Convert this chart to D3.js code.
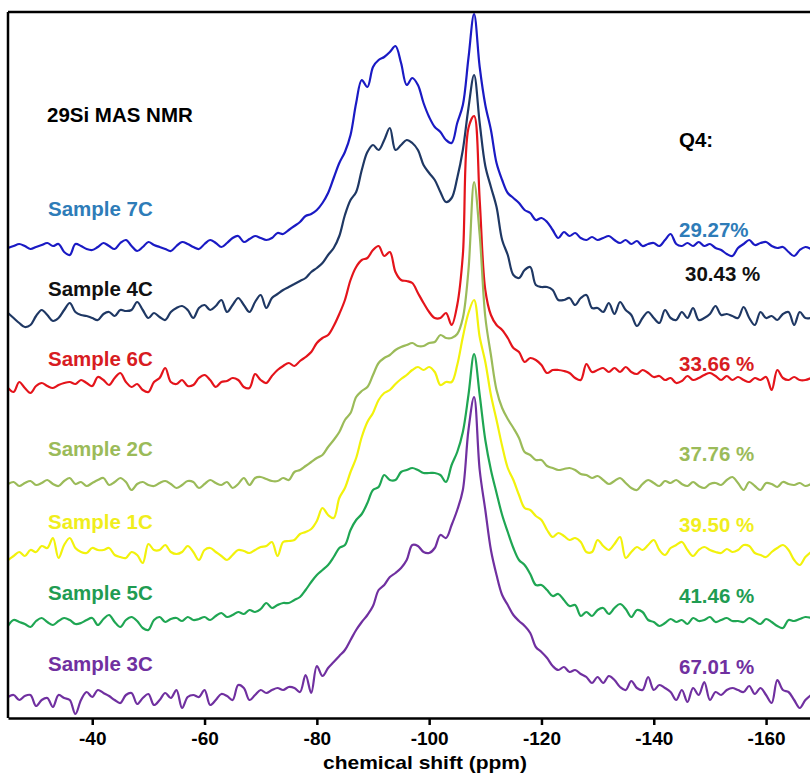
<!DOCTYPE html>
<html>
<head>
<meta charset="utf-8">
<script src="https://cdn.jsdelivr.net/npm/d3@7"></script>
<style>
  body { margin: 0; background: #fff; }
  svg { display: block; }
  text { font-family: Arial, "Liberation Sans", sans-serif; font-weight: bold; }
</style>
</head>
<body>
<svg id="chart" width="810" height="774"></svg>
<script>
// 29Si MAS NMR spectra, stacked; intensities in arbitrary units above each trace's own baseline
const shifts = d3.range(-25, -169, -1); // chemical shift of each sample point (ppm)

const samples = ["Sample 7C", "Sample 4C", "Sample 6C", "Sample 2C", "Sample 1C", "Sample 5C", "Sample 3C"];
const q4Labels = ["29.27%", "30.43 %", "33.66 %", "37.76 %", "39.50 %", "41.46 %", "67.01 %"];
const stackOffsets = [470, 405, 333, 233, 166, 96, 18];

const tickValues = [-40, -60, -80, -100, -120, -140, -160];
const tickLabels = ["-40", "-60", "-80", "-100", "-120", "-140", "-160"];

const spec7C = [
  0, 2, 4, 2, -1, 1, 3, 5, 2, 4,
  -4, -7, 4, 2, -1, -2, 1, 5, 2, -1,
  5, 8, 2, -3, 1, 6, 3, 1, -1, -3,
  2, 6, 4, 1, -1, 4, 8, 5, 1, 5,
  10, 12, 6, 9, 12, 10, 8, 10, 15, 14,
  18, 22, 26, 32, 34, 38, 45, 55, 70, 85,
  96, 113, 145, 168, 161, 181, 188, 191, 196, 202,
  185, 163, 170, 163, 145, 131, 121, 116, 108, 105,
  125, 143, 190, 234, 181, 143, 118, 85, 68, 55,
  50, 45, 38, 35, 28, 30, 26, 18, 10, 16,
  12, 15, 10, 8, 11, 8, 10, 12, 8, 5,
  8, 4, 7, 2, 4, 5, 2, 8, 14, 4,
  2, 5, 2, 6, 2, 4, 0, -2, -6, -8,
  0, 4, 8, 3, 5, 6, 2, 0, 1, -4,
  -8, -2, 1, -1
];
const spec4C = [
  0, -5, -10, -14, -12, -3, 3, -2, -8, -5,
  3, 10, 1, -2, -3, -5, -7, -1, 1, -3,
  3, 2, 3, 11, 3, -5, 0, -4, -7, 1,
  5, 7, 3, -5, 5, 8, 3, 7, 13, 1,
  8, 15, 8, 1, 11, 18, 5, 15, 19, 23,
  26, 29, 32, 35, 41, 45, 50, 58, 65, 77,
  98, 113, 121, 143, 161, 168, 163, 173, 185, 163,
  168, 173, 170, 163, 148, 140, 133, 121, 111, 115,
  135, 163, 205, 238, 190, 147, 126, 106, 73, 58,
  38, 35, 43, 46, 28, 26, 26, 23, 13, 13,
  15, 8, 15, 18, 5, 5, 1, 10, -1, 11,
  3, -2, -13, -5, 1, -5, -10, 3, -5, -7,
  1, -5, 5, -7, -5, -1, 7, -2, -1, -3,
  -5, 6, -5, -12, 1, -5, -3, -7, -1, 1,
  -12, 1, -5, -5
];
const spec6C = [
  -3, -7, 3, -3, -8, -1, 2, -1, -3, 0,
  2, 3, 1, 5, 2, -1, 8, 5, 0, 7,
  12, 3, -2, 1, -5, -7, 3, 7, 17, 3,
  1, 5, -1, 0, 7, 10, 5, -2, 3, 4,
  7, 5, -2, -3, 11, 5, 2, 9, 15, 19,
  22, 19, 24, 28, 33, 42, 47, 50, 59, 71,
  85, 105, 118, 125, 127, 135, 139, 129, 133, 113,
  105, 104, 102, 92, 82, 73, 67, 67, 72, 60,
  80, 130, 257, 269, 185, 95, 70, 60, 55, 47,
  37, 33, 23, 27, 25, 20, 12, 15, 15, 14,
  12, 7, 5, 21, 13, 15, 17, 13, 17, 13,
  18, 13, 11, 15, 12, 8, 9, 5, 7, 2,
  4, 9, 5, 7, 10, 12, 9, 5, 9, 5,
  8, 5, 3, 7, 5, 8, -5, 15, 7, 5,
  8, 5, 5, 7
];
const spec2C = [
  1, 3, -1, 2, 4, 0, 2, 5, 1, -1,
  4, 7, 1, 3, -1, 2, 5, 7, 0, 3,
  7, 3, -5, 1, 3, 0, -1, 2, 4, 1,
  -3, 0, 4, 3, -3, 1, 5, 2, 0, 3,
  -3, 1, 7, 0, 7, 8, 6, 4, 4, 7,
  5, 13, 15, 19, 23, 27, 30, 38, 45, 53,
  65, 72, 88, 94, 98, 110, 122, 127, 130, 135,
  138, 140, 142, 139, 139, 142, 143, 150, 147, 147,
  151, 167, 215, 303, 250, 168, 130, 95, 77, 66,
  57, 47, 33, 30, 25, 25, 19, 17, 15, 16,
  17, 15, 11, 10, 7, 9, 5, 1, 4, 7,
  2, -3, -5, 1, 5, 2, -1, 4, 2, 5,
  1, -1, 3, -1, -3, 1, 2, 0, 5, 8,
  2, -5, 3, -1, -5, 2, 1, -2, 3, 1,
  0, 2, -1, 1
];
const spec1C = [
  -8, -4, 0, -4, 2, 0, 6, 4, 14, -6,
  7, 14, 4, 0, -1, 4, 2, 2, 4, -3,
  -5, -6, 0, -3, -11, 8, 2, 2, 7, 0,
  -2, 0, 6, 0, -8, 2, 4, 0, -4, -8,
  -3, 2, 1, -1, 2, 5, 6, 10, -4, 10,
  11, 12, 18, 20, 23, 31, 44, 37, 34, 54,
  64, 80, 94, 115, 130, 139, 152, 159, 162, 168,
  173, 177, 182, 185, 182, 185, 180, 167, 170, 170,
  187, 215, 239, 252, 215, 190, 157, 132, 106, 84,
  72, 57, 44, 42, 36, 32, 22, 15, 19, 16,
  12, 14, 10, 0, 0, 12, 6, 2, 8, 15,
  -6, 0, 5, 2, 7, 12, 2, -3, 4, 7,
  10, 2, -4, 2, 5, 2, 0, -1, 3, 0,
  2, 7, 6, -1, -3, -5, 0, 4, 7, 2,
  -8, -13, -5, 0
];
const spec5C = [
  -4, 2, 0, -2, -5, 1, 4, 0, -3, 1,
  4, 2, -2, -1, 2, 4, -3, 3, 7, 0,
  -5, 2, 5, 1, -6, -8, 2, 5, 0, 3,
  4, 1, 5, 2, 3, 5, 2, 6, 9, 5,
  7, 10, 8, 12, 10, 13, 19, 14, 17, 19,
  19, 22, 25, 32, 40, 47, 52, 57, 65, 74,
  77, 92, 102, 108, 119, 132, 135, 147, 142, 142,
  150, 152, 154, 152, 149, 149, 149, 147, 140, 157,
  170, 190, 227, 268, 227, 182, 152, 129, 107, 90,
  74, 62, 57, 48, 37, 37, 32, 26, 28, 22,
  16, 17, 6, 10, 6, 12, 14, 8, 14, 18,
  13, 5, 12, 10, 2, 0, -4, -1, 3, 0,
  2, -2, 4, 1, 2, 5, 0, 2, 4, 1,
  1, 0, 4, 1, -2, 3, 0, -4, -6, 2,
  1, 3, 5, 4
];
const spec3C = [
  3, 5, 0, 4, 5, -6, 0, 2, -7, 5,
  2, 0, -14, 0, 8, 3, 10, 7, 4, 0,
  -3, 5, 7, -4, 2, 6, -5, 0, 7, 2,
  10, -8, 3, 5, 3, 10, -5, 0, 6, 4,
  0, 15, 12, 0, 5, 10, 7, 10, 12, 10,
  13, 12, 8, 25, 7, 34, 24, 32, 38, 44,
  50, 60, 70, 78, 85, 94, 110, 115, 123, 127,
  132, 140, 155, 154, 148, 147, 152, 165, 162, 175,
  190, 210, 270, 303, 230, 190, 150, 125, 105, 95,
  85, 79, 74, 67, 53, 48, 42, 34, 30, 33,
  28, 30, 26, 23, 17, 23, 17, 24, 20, 13,
  10, 19, 12, 10, 23, 10, 15, 12, 8, 0,
  10, -2, 12, 5, 18, 0, 8, 5, 10, 12,
  10, 8, 14, 6, 12, 5, -3, 20, 10, 8,
  0, -8, 0, 5
];

const spectra = [spec7C, spec4C, spec6C, spec2C, spec1C, spec5C, spec3C];

// styling
const lineColors  = ["#1a1ac4", "#1f3864", "#e4141b", "#9bbb59", "#f2f20c", "#1fa653", "#7030a0"];
const labelColors = ["#2e7cb8", "#111111", "#d81c22", "#9bbb59", "#f0ee1c", "#1f9c52", "#7030a0"];
const sampleLabelY = [216, 296, 366, 456, 529, 600, 671];
const q4LabelX = [679, 685, 679, 679, 679, 679, 679];
const q4LabelY = [237, 281, 371, 461, 532, 603, 674];
const labelFont = "20.5px";

const svg = d3.select("#chart");
const plot = { left: 8, top: 12, right: 811, bottom: 718 };

const x = d3.scaleLinear().domain([-25, -168]).range([plot.left, plot.right]);
const y = d3.scaleLinear().domain([0, 706]).range([plot.bottom, plot.top]);

svg.append("defs").append("clipPath").attr("id", "plotClip")
  .append("rect")
  .attr("x", plot.left).attr("y", plot.top)
  .attr("width", plot.right - plot.left).attr("height", plot.bottom - plot.top);

const line = d3.line()
  .x((d, i) => x(shifts[i]))
  .y(d => d)
  .curve(d3.curveCatmullRom.alpha(0.5));

const traces = svg.append("g").attr("clip-path", "url(#plotClip)");
spectra.forEach((vals, k) => {
  const ys = vals.map(v => y(stackOffsets[k] + v));
  traces.append("path")
    .attr("d", line(ys))
    .attr("fill", "none")
    .attr("stroke", lineColors[k])
    .attr("stroke-width", 2.2)
    .attr("stroke-linejoin", "round");
});

// frame: top and left edges
svg.append("line").attr("x1", plot.left).attr("x2", 810).attr("y1", plot.top).attr("y2", plot.top)
  .attr("stroke", "#000").attr("stroke-width", 2.5);
svg.append("line").attr("x1", plot.left).attr("x2", plot.left).attr("y1", plot.top).attr("y2", plot.bottom)
  .attr("stroke", "#000").attr("stroke-width", 2.5);

// x axis
const xAxis = d3.axisBottom(x)
  .tickValues(tickValues)
  .tickFormat((d, i) => tickLabels[i])
  .tickSizeInner(7)
  .tickSizeOuter(0)
  .tickPadding(7);

const gx = svg.append("g").attr("transform", `translate(0,${plot.bottom})`).call(xAxis);
gx.select(".domain").attr("stroke", "#000").attr("stroke-width", 2.5);
gx.selectAll(".tick line").attr("stroke", "#000").attr("stroke-width", 2.5);
gx.selectAll(".tick text")
  .attr("fill", "#000")
  .style("font-family", "Arial, 'Liberation Sans', sans-serif")
  .style("font-weight", "bold")
  .style("font-size", "19px");

svg.append("text")
  .attr("x", 425).attr("y", 769)
  .attr("text-anchor", "middle")
  .style("font-size", "19px")
  .attr("textLength", 204)
  .attr("lengthAdjust", "spacingAndGlyphs")
  .attr("fill", "#000")
  .text("chemical shift (ppm)");

// annotations
svg.append("text").attr("x", 47).attr("y", 122).style("font-size", labelFont).attr("fill", "#000").text("29Si MAS NMR");
svg.append("text").attr("x", 679).attr("y", 147).style("font-size", labelFont).attr("fill", "#000").text("Q4:");

samples.forEach((name, k) => {
  svg.append("text")
    .attr("x", 48).attr("y", sampleLabelY[k])
    .style("font-size", labelFont)
    .attr("fill", labelColors[k])
    .text(name);
  svg.append("text")
    .attr("x", q4LabelX[k]).attr("y", q4LabelY[k])
    .style("font-size", labelFont)
    .attr("fill", labelColors[k])
    .text(q4Labels[k]);
});
</script>
</body>
</html>
